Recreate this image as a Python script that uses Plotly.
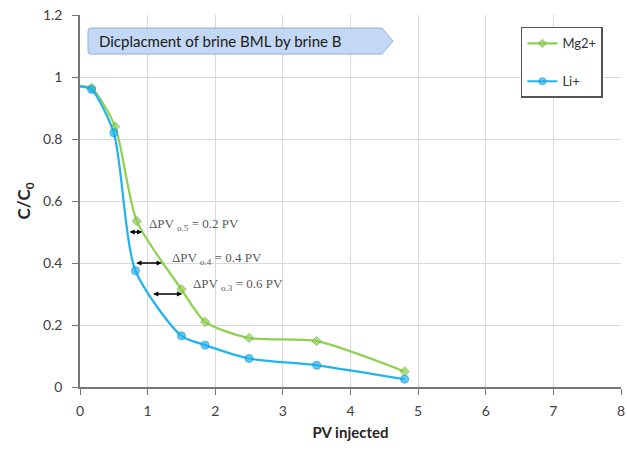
import plotly.graph_objects as go

pv_mg = [0.0, 0.17, 0.52, 0.84, 1.5, 1.85, 2.5, 3.5, 4.8]
c_mg = [0.97, 0.965, 0.84, 0.535, 0.315, 0.21, 0.158, 0.148, 0.05]
pv_li = [0.0, 0.17, 0.5, 0.82, 1.5, 1.85, 2.5, 3.5, 4.8]
c_li = [0.97, 0.96, 0.82, 0.375, 0.165, 0.135, 0.092, 0.07, 0.025]

arrows = [  # (x_from, x_to, y, label, sub)
    (0.71, 0.92, 0.5, "0.2", "o.5"),
    (0.81, 1.21, 0.4, "0.4", "o.4"),
    (1.06, 1.51, 0.3, "0.6", "o.3"),
]
label_pos = [(0.99, 0.525), (1.33, 0.415), (1.64, 0.33)]

fig = go.Figure()
msize = [0] + [7] * (len(pv_mg) - 1)
fig.add_trace(go.Scatter(x=pv_mg, y=c_mg, name="Mg2+", mode="lines+markers",
                         line=dict(color="#8ED14F", width=2.2, shape="spline", smoothing=0.7),
                         marker=dict(symbol="diamond", size=msize, color="#8ED14F",
                                     line=dict(color="#5EA82A", width=1)),
                         legendgroup="a"))
msize2 = [0] + [8] * (len(pv_li) - 1)
fig.add_trace(go.Scatter(x=pv_li, y=c_li, name="Li+", mode="lines+markers",
                         line=dict(color="#1FB4F0", width=2.2, shape="spline", smoothing=0.7),
                         marker=dict(symbol="circle", size=msize2, color="#1FB4F0",
                                     line=dict(color="#0A8FD0", width=1)),
                         legendgroup="b"))

for (x0, x1, y, val, sub), (tx, ty) in zip(arrows, label_pos):
    fig.add_annotation(x=x1, y=y, ax=x0, ay=y, xref="x", yref="y", axref="x", ayref="y",
                       showarrow=True, arrowhead=2, startarrowhead=2, arrowside="end+start",
                       arrowsize=0.8, arrowwidth=1.3, arrowcolor="black", text="")
    fig.add_annotation(x=tx, y=ty, xref="x", yref="y", xanchor="left", yanchor="middle",
                       showarrow=False,
                       text=f"ΔPV <sub>{sub}</sub> = {val} PV",
                       font=dict(family="Liberation Serif", size=13, color="#595959"))

# banner shape (paper coords)
fig.add_shape(type="path", xref="paper", yref="paper",
              path=("M 0.0185,0.965 L 0.558,0.965 L 0.5786,0.930 L 0.558,0.895 "
                    "L 0.0185,0.895 Q 0.0148,0.895 0.0148,0.905 L 0.0148,0.955 "
                    "Q 0.0148,0.965 0.0185,0.965 Z"),
              fillcolor="#C3D8F4", line=dict(color="#8EB0DE", width=1))
fig.add_annotation(x=0.031, y=0.930, xref="paper", yref="paper", xanchor="left", yanchor="middle",
                   showarrow=False, text="Dicplacment of brine BML by brine B",
                   font=dict(family="Lato", size=15, color="#1a1a1a"))

fig.update_layout(
    width=627, height=452,
    margin=dict(l=80, r=6, t=15, b=65),
    plot_bgcolor="white", paper_bgcolor="white",
    showlegend=True,
    legend=dict(x=0.815, y=0.968, xanchor="left", yanchor="top",
                bordercolor="#555555", borderwidth=1.5, bgcolor="white",
                font=dict(family="Lato", size=13, color="#333333"),
                tracegroupgap=18, itemwidth=30),
    xaxis=dict(range=[0, 8], dtick=1, showgrid=True, gridcolor="#D9D9D9",
               showline=True, linecolor="#777777", linewidth=1.5,
               ticks="outside", ticklen=6, tickcolor="#777777",
               ticklabelstandoff=4, automargin=False,
               tickfont=dict(family="Lato", size=14, color="#404040"),
               title=dict(text="<b>PV injected</b>", font=dict(family="Lato", size=15, color="#262626"),
                          standoff=10),
               zeroline=False),
    yaxis=dict(range=[0, 1.2], dtick=0.2, showgrid=True, gridcolor="#D9D9D9",
               showline=True, linecolor="#777777", linewidth=1.5,
               ticks="outside", ticklen=6, tickcolor="#777777",
               ticklabelstandoff=7, automargin=False,
               tickvals=[0, 0.2, 0.4, 0.6, 0.8, 1.0, 1.2],
               ticktext=["0", "0.2", "0.4", "0.6", "0.8", "1", "1.2"],
               tickfont=dict(family="Lato", size=14, color="#404040"),
               title=dict(text="<b>C/C<sub>0</sub></b>", font=dict(family="Lato", size=17, color="#262626"),
                          standoff=8),
               zeroline=False),
)

fig.write_html("out.html")
